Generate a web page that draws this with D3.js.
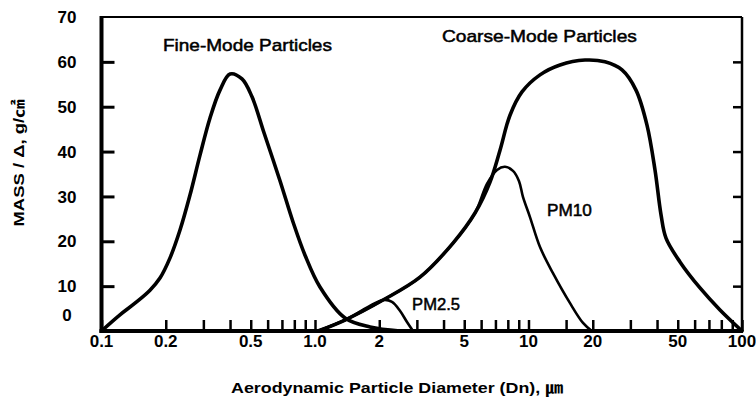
<!DOCTYPE html>
<html><head><meta charset="utf-8">
<script src="https://cdn.jsdelivr.net/npm/d3@7"></script>
<style>body{margin:0;background:#fff}svg{display:block}</style>
</head><body><svg id="c" width="756" height="406"></svg>
<script>
// ---- data ----
const fineD = [0.1, 0.122, 0.1435, 0.1687, 0.1879, 0.2094, 0.2332, 0.2597, 0.2893, 0.3223, 0.3589, 0.3999, 0.455, 0.507, 0.577, 0.6855, 0.789, 0.898, 1.055, 1.382, 1.81, 2.5];
const fineM = [0, 3.6, 6.2, 9.1, 11.8, 16.3, 22.5, 30.3, 39.2, 47.5, 53.7, 57.3, 56.2, 52.2, 44.2, 33.5, 24.3, 16.9, 9.8, 2.9, 0.9, 0];
const coarseD = [1.033, 1.382, 2.082, 3.103, 4.431, 5.616, 6.603, 7.355, 8.19, 9.32, 11.32, 14.05, 18.39, 22.82, 27.42, 31.88, 35.89, 39.13, 41.76, 44.06, 51.24, 63.58, 78.89, 100];
const coarseM = [0, 2.45, 6.9, 12.0, 19.6, 26.3, 33.2, 40.3, 48.1, 53.3, 57.1, 59.3, 60.4, 60.0, 58.2, 53.7, 45.9, 35.9, 25.9, 20.7, 15.4, 9.6, 4.7, 0];
const pm10D = [1.033, 1.382, 2.082, 3.103, 4.431, 5.616, 6.39, 7.12, 7.76, 8.46, 9.03, 9.42, 10.16, 11.32, 13.02, 15.65, 18.0, 19.8];
const pm10M = [0, 2.45, 6.9, 12.0, 19.6, 26.3, 32.8, 35.9, 36.6, 35.7, 33.4, 29.9, 25.4, 18.7, 12.9, 6.2, 1.8, 0];
const pm25D = [1.033, 1.382, 2.082, 2.294, 2.5, 2.697, 2.878];
const pm25M = [0, 2.45, 6.9, 6.5, 4.5, 2.0, 0];
const xTickLabels = ["0.1", "0.2", "0.5", "1.0", "2", "5", "10", "20", "50", "100"];
const xMinorTicks = [0.3, 0.4, 0.6, 0.7, 0.8, 0.9, 3, 4, 6, 7, 8, 9, 15, 30, 40, 60, 70, 80, 90];
const yTicks = [0, 10, 20, 30, 40, 50, 60, 70];
const curveLabels = [
  {text: "Fine-Mode Particles", d: 0.194, m: 62.5, len: 169},
  {text: "Coarse-Mode Particles", d: 3.93, m: 64.5, len: 195},
  {text: "PM10", d: 12.2, m: 25.6, len: 45},
  {text: "PM2.5", d: 2.85, m: 4.6, len: 48}
];
const xTitle = "Aerodynamic Particle Diameter (Dn), ㎛";
const yTitle = "MASS / Δ, g/㎠";

// ---- scales ----
const L = 101.5, R = 742, T = 17, B = 331;
const x = d3.scaleLog().domain([0.1, 100]).range([L, R]);
const y = d3.scaleLinear().domain([0, 70]).range([B, T]);
const svg = d3.select("#c");
const font = "'Liberation Sans', Arial, Helvetica, sans-serif";

// frame
svg.append("line").attr("x1", L).attr("x2", R).attr("y1", T).attr("y2", T).attr("stroke", "#000").attr("stroke-width", 2);
svg.append("line").attr("x1", R).attr("x2", R).attr("y1", T).attr("y2", B).attr("stroke", "#000").attr("stroke-width", 2.5);

// y ticks (left, inward) and right
const yAxisL = d3.axisRight(y).tickValues(yTicks.slice(1, -1)).tickSize(13).tickFormat("");
const gl = svg.append("g").attr("transform", `translate(${L},0)`).call(yAxisL);
gl.select(".domain").remove();
gl.selectAll(".tick line").attr("stroke", "#000").attr("stroke-width", 3);
const yAxisR = d3.axisLeft(y).tickValues(yTicks.slice(1, -1)).tickSize(9).tickFormat("");
const gr = svg.append("g").attr("transform", `translate(${R},0)`).call(yAxisR);
gr.select(".domain").remove();
gr.selectAll(".tick line").attr("stroke", "#000").attr("stroke-width", 2.5);

// y labels
svg.append("g").selectAll("text").data(yTicks).join("text")
  .attr("x", 67).attr("y", d => d === 0 ? y(d) - 16 : y(d))
  .attr("dy", "0.36em").attr("text-anchor", "middle")
  .attr("font-family", font).attr("font-weight", "bold").attr("font-size", 17)
  .text(d => d);

// x ticks (upward)
const xMajor = xTickLabels.map(Number);
const xAxis = d3.axisTop(x).tickValues(xMajor.concat(xMinorTicks)).tickSize(11).tickFormat("");
const gx = svg.append("g").attr("transform", `translate(0,${B})`).call(xAxis);
gx.select(".domain").remove();
gx.selectAll(".tick line").attr("stroke", "#000").attr("stroke-width", 2.5);

// x labels
svg.append("g").selectAll("text").data(xTickLabels).join("text")
  .attr("x", d => x(+d)).attr("y", 347)
  .attr("text-anchor", "middle")
  .attr("font-family", font).attr("font-weight", "bold").attr("font-size", 17)
  .text(d => d);

// axes main lines
svg.append("line").attr("x1", L).attr("x2", L).attr("y1", T - 1).attr("y2", B + 2).attr("stroke", "#000").attr("stroke-width", 4);
svg.append("line").attr("x1", L - 2).attr("x2", R + 1).attr("y1", B).attr("y2", B).attr("stroke", "#000").attr("stroke-width", 4);

// curves
const line = d3.line().x(p => x(p[0])).y(p => y(p[1])).curve(d3.curveCatmullRom.alpha(0.5));
function curve(D, M, w) {
  svg.append("path").attr("d", line(D.map((d, i) => [d, M[i]])))
    .attr("fill", "none").attr("stroke", "#000").attr("stroke-width", w)
    .attr("stroke-linejoin", "round").attr("stroke-linecap", "round");
}
curve(pm25D, pm25M, 2.6);
curve(pm10D, pm10M, 2.6);
curve(fineD, fineM, 3.6);
curve(coarseD, coarseM, 3.6);

// curve labels
svg.append("g").selectAll("text").data(curveLabels).join("text")
  .attr("x", d => x(d.d)).attr("y", d => y(d.m))
  .attr("textLength", d => d.len).attr("lengthAdjust", "spacingAndGlyphs")
  .attr("font-family", font).attr("font-size", 17)
  .attr("stroke", "#000").attr("stroke-width", 0.5)
  .text(d => d.text);

// axis titles
svg.append("text").attr("x", 231).attr("y", 393)
  .attr("textLength", 332).attr("lengthAdjust", "spacingAndGlyphs")
  .attr("font-family", font + ", 'Noto Sans CJK KR'").attr("font-weight", "bold").attr("font-size", 15)
  .text(xTitle);
svg.append("text").attr("transform", "translate(24,163) rotate(-90)")
  .attr("text-anchor", "middle")
  .attr("textLength", 127).attr("lengthAdjust", "spacingAndGlyphs")
  .attr("font-family", font + ", 'Noto Sans CJK KR'").attr("font-weight", "bold").attr("font-size", 15)
  .text(yTitle);
</script>
</body></html>
